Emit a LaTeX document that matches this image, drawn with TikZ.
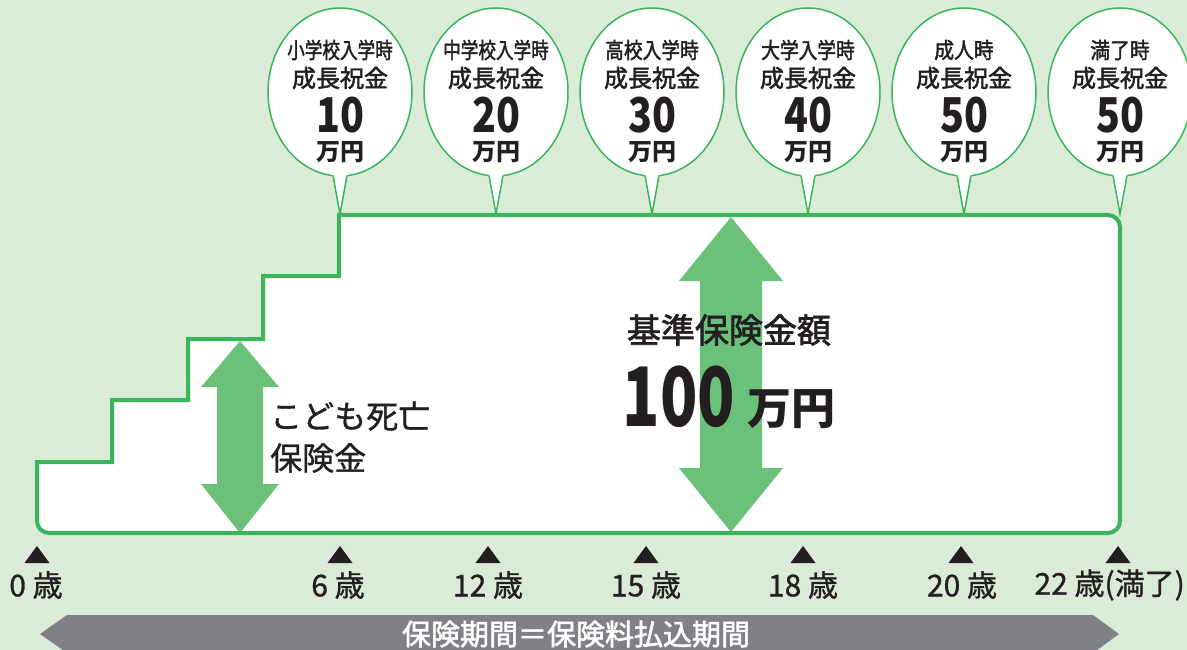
\documentclass[tikz,border=0pt]{standalone}
\usepackage{fontspec}
\setmainfont{Noto Sans CJK JP}
\newfontfamily\jpm{Noto Sans CJK JP}[FakeBold=2]
\newfontfamily\jpl{Noto Sans CJK JP}[FakeBold=1]
\usetikzlibrary{shapes.geometric,calc}
\definecolor{bg}{RGB}{218,236,216}
\definecolor{lgreen}{RGB}{58,181,89}
\definecolor{agreen}{RGB}{108,193,122}
\definecolor{bargrey}{RGB}{128,129,134}
\definecolor{ink}{RGB}{35,31,32}
\newcommand\fsz[1]{\fontsize{#1}{#1}\selectfont}
\newcommand\cnd[2]{\scalebox{#1}[1]{#2}}
\begin{document}
\begin{tikzpicture}[x=1pt,y=-1pt,
  bubble/.style={ellipse,draw=lgreen,line width=1.5pt,fill=white,minimum width=144pt,minimum height=168pt,inner sep=0pt},
  txt/.style={inner sep=0pt,text=ink},
  tail/.style={draw=lgreen,line width=1.5pt},
  tick/.style={fill=ink},
  ticklabel/.style={inner sep=0pt,text=ink,font=\jpl\fsz{30}}]
\useasboundingbox (0,0) rectangle (1187,650);
\clip (0,0) rectangle (1187,650);
\fill[bg] (0,0) rectangle (1187,650);

% stair area
\fill[white,rounded corners=12pt] (339,215) -- (1120,215) -- (1120,533) -- (37,533) [sharp corners] -- (37,462) -- (112,462) -- (112,400) -- (188,400) -- (188,339) -- (263,339) -- (263,276) -- (339,276) -- cycle;

% arrows
\fill[agreen] (240,341) -- (279,387) -- (263,387) -- (263,484) -- (279,484) -- (240,533) -- (201,484) -- (217,484) -- (217,387) -- (201,387) -- cycle;
\fill[agreen] (731,217) -- (783,281) -- (762,281) -- (762,468) -- (783,468) -- (731,532) -- (679,468) -- (700,468) -- (700,281) -- (679,281) -- cycle;

% stair outline
\draw[lgreen,line width=4pt,line join=miter] (339,276) -- (339,215) [rounded corners=12pt] -- (1120,215) -- (1120,533) -- (37,533) [sharp corners] -- (37,462) -- (112,462) -- (112,400) -- (188,400) -- (188,339) -- (263,339) -- (263,276) -- cycle;

% bubbles
\newcommand\bub[5]{%
  \node[bubble] (#1) at (#2,92) {};
  \coordinate (#1tip) at (#2,214);
  \fill[white] ($(#1.center)+(-7.9,79)$) -- (#1tip) -- ($(#1.center)+(7.9,79)$) -- cycle;
  \draw[tail] ($(#1.center)+(-7,83.6)$) -- (#1tip) -- ($(#1.center)+(7,83.6)$);
  \node[txt] (#1a) at (#2,50) {\jpm\fsz{22}\cnd{#5}{#3}};
  \node[txt] (#1b) at (#2,78) {\jpm\fsz{24}成長祝金};
  \node[txt] (#1c) at (#2,115.5) {\cnd{0.82}{\fsz{48}\bfseries #4}};
  \node[txt] (#1d) at (#2,152.5) {\fsz{24}\bfseries 万円};
}
\bub{b1}{340}{小学校入学時}{10}{0.8}
\bub{b2}{496}{中学校入学時}{20}{0.8}
\bub{b3}{652}{高校入学時}{30}{0.85}
\bub{b4}{808}{大学入学時}{40}{0.85}
\bub{b5}{964}{成人時}{50}{0.9}
\bub{b6}{1120}{満了時}{50}{0.9}

% texts
\node[txt,anchor=west] (kodomo1) at (270,416) {\jpl\fsz{32}こども死亡};
\node[txt,anchor=west] (kodomo2) at (270,458) {\jpl\fsz{32}保険金};
\node[txt] (kijun) at (729,330) {\jpm\fsz{34}基準保険金額};
\node[txt] (hyaku) at (679,397) {\cnd{0.75}{\fsz{82}\bfseries 100}};
\node[txt] (manen) at (791,409) {\fsz{44}\bfseries 万円};

% ticks
\foreach \x in {37,340,488,646,803,961,1118}{
  \fill[tick] (\x-12.5,563) -- (\x+12.5,563) -- (\x,546) -- cycle;
}
\node[ticklabel] (l0) at (36,585) {0 歳};
\node[ticklabel] (l6) at (338,585) {6 歳};
\node[ticklabel] (l12) at (488,585) {12 歳};
\node[ticklabel] (l15) at (646,585) {15 歳};
\node[ticklabel] (l18) at (803,585) {18 歳};
\node[ticklabel] (l20) at (962,585) {20 歳};
\node[ticklabel,anchor=east] (l22) at (1185,585) {22 歳(満了)};

% bar
\fill[bargrey] (67,615) -- (1093,615) -- (1119,634) -- (1093,653) -- (67,653) -- (40,634) -- cycle;
\node[inner sep=0pt,text=white] (bar) at (576,634) {\jpm\fsz{29}保険期間＝保険料払込期間};
\end{tikzpicture}
\end{document}
